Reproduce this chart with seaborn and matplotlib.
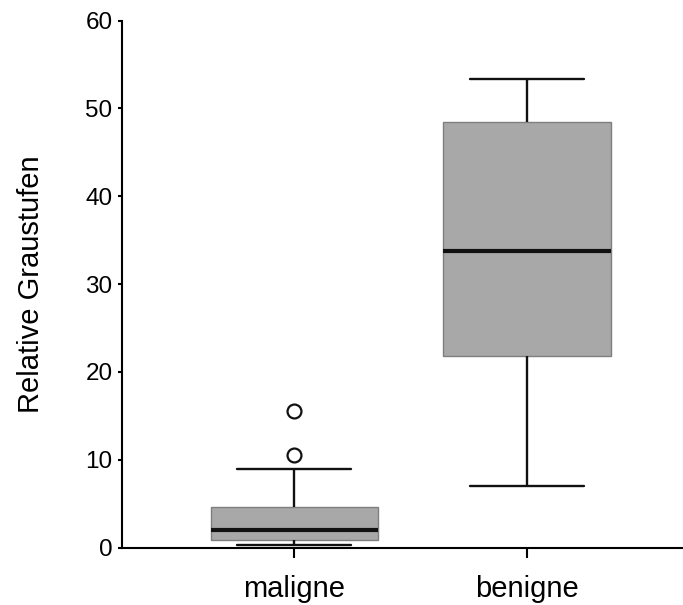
import numpy as np
import pandas as pd
import matplotlib
matplotlib.use("Agg")
import matplotlib.pyplot as plt
import seaborn as sns

# -------------------------------------------------------------------
# Box statistics
# -------------------------------------------------------------------

groups = ["maligne", "benigne"]
whisker_lo = [0.32, 7.0]
q1 = [0.82, 21.8]
medians = [1.96, 33.8]
q3 = [4.58, 48.5]
whisker_hi = [8.97, 53.3]
outliers = [[10.5, 15.6], []]

# build samples whose quartiles / whiskers give exactly these stats
rows = []
for i, g in enumerate(groups):
    vals = [whisker_lo[i]] + [q1[i]] * 3 + [medians[i]] * 3 + [q3[i]] * 3 + [whisker_hi[i]] + outliers[i]
    for v in vals:
        rows.append({"Gruppe": g, "Wert": v})
df = pd.DataFrame(rows)

# -------------------------------------------------------------------
# Plot
# -------------------------------------------------------------------

sns.set_style("ticks")
plt.rcParams["font.family"] = ["Liberation Sans", "DejaVu Sans"]
plt.rcParams["text.color"] = "black"
plt.rcParams["axes.labelcolor"] = "black"
plt.rcParams["xtick.labelcolor"] = "black"
plt.rcParams["ytick.labelcolor"] = "black"

fig = plt.figure(figsize=(6.83, 6.05), dpi=100)
ax = fig.add_axes([0.179, 0.095, 0.821, 0.871])

sns.boxplot(
    data=df, x="Gruppe", y="Wert", order=groups, ax=ax,
    width=0.72, color="#a8a8a8", linecolor="black", linewidth=1.5,
    capwidths=0.49,
    boxprops=dict(facecolor="#a8a8a8", edgecolor="#7f7f7f", linewidth=1.0),
    medianprops=dict(color="#111111", linewidth=3.0),
    whiskerprops=dict(color="#111111", linewidth=1.7),
    capprops=dict(color="#111111", linewidth=1.7),
    flierprops=dict(marker="o", markersize=10, markerfacecolor="white",
                    markeredgecolor="#111111", markeredgewidth=1.6),
)

ax.set_ylim(0, 60)
ax.set_xlim(-0.74, 1.67)
ax.set_yticks([0, 10, 20, 30, 40, 50, 60])
ax.set_xlabel("")
ax.set_ylabel("Relative Graustufen", fontsize=21, labelpad=29)
ax.tick_params(axis="y", labelsize=17.5, length=3, width=1.5, pad=4,
               color="black", labelcolor="black")
ax.tick_params(axis="x", labelsize=21, length=7, width=1.5, pad=13,
               color="black", labelcolor="black")
sns.despine(ax=ax)
for side in ["left", "bottom"]:
    ax.spines[side].set_linewidth(1.5)
    ax.spines[side].set_color("black")

fig.savefig("out.png", dpi=100)
